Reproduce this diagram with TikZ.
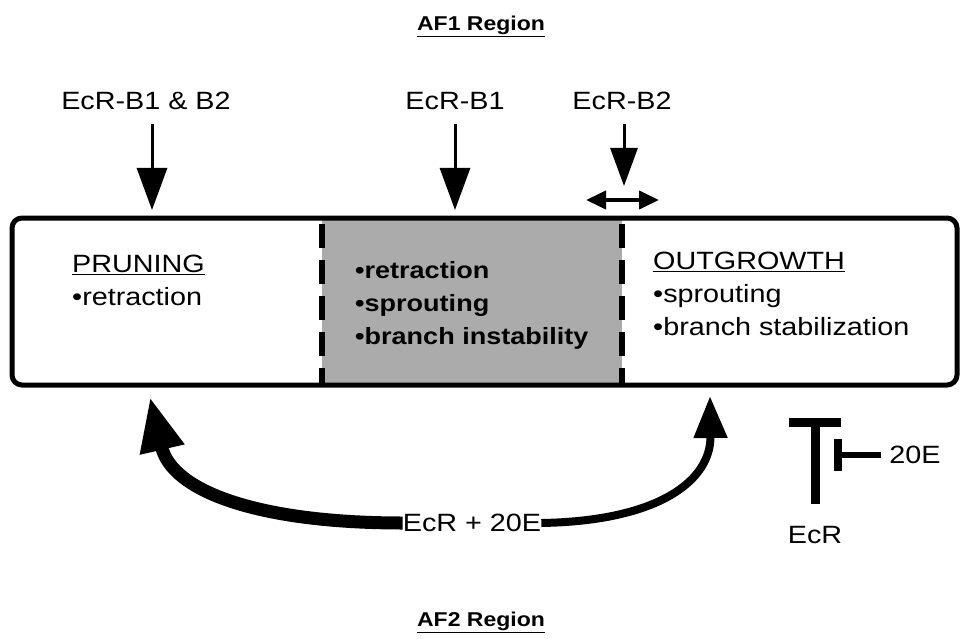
\documentclass[tikz,border=0pt]{standalone}
\usepackage{fontspec}
\setmainfont{Liberation Sans}[FakeStretch=1.15]
\usetikzlibrary{arrows.meta}

\tikzset{
  lbl/.style={font=\fontsize{25}{33}\selectfont, inner sep=0pt},
  ttl/.style={font=\fontsize{20}{22}\selectfont\bfseries, inner sep=0pt},
  col/.style={lbl, align=left, anchor=north west},
  midcol/.style={col, font=\fontsize{23.5}{33}\selectfont\bfseries},
  downarrow/.style={line width=3pt, shorten <=14pt, -{Triangle[length=42pt, width=30pt]}},
  divider/.style={line width=6pt, dash pattern=on 24pt off 12pt, dash phase=-6pt},
}

\begin{document}
\begin{tikzpicture}[x=1pt, y=-1pt]
  \useasboundingbox (0,0) rectangle (963,639);
  % titles
  \node[ttl] (af1) at (481,26) {\underline{AF1 Region}};
  \node[ttl] (af2) at (481,622) {\underline{AF2 Region}};
  % the arbor, with the shaded zone in the middle
  \fill[black!33] (322,218) rectangle (622,385);
  \node[draw, line width=5pt, rounded corners=10pt, minimum width=945pt, minimum height=167pt, inner sep=0pt] (box) at (484.5,301.5) {};
  \draw[divider] (322,218) -- (322,385);
  \draw[divider] (622,218) -- (622,385);
  \node[col] (prune) at (72,255) {\underline{PRUNING}\\•retraction};
  \node[midcol] (mid) at (355,261) {•retraction\\•sprouting\\•branch instability};
  \node[col] (grow) at (653,252) {\underline{OUTGROWTH}\\•sprouting\\•branch stabilization};
  % receptor isoforms above
  \node[lbl] (b12) at (146,101) {EcR-B1 \& B2};
  \node[lbl] (b1) at (455,101) {EcR-B1};
  \node[lbl] (b2) at (622,101) {EcR-B2};
  \coordinate (pruneTop) at (152,210);
  \coordinate (midTop) at (455,210);
  \coordinate (shiftTop) at (624,186);
  \coordinate (shiftL) at (586,200);
  \coordinate (shiftR) at (659,200);
  \draw[downarrow] (b12.south -| pruneTop) -- (pruneTop);
  \draw[downarrow] (b1.south) -- (midTop);
  \draw[line width=3pt, shorten <=14pt, -{Triangle[length=38pt, width=27pt]}] (b2.south -| shiftTop) -- (shiftTop);
  \draw[line width=4pt, {Triangle[length=20pt, width=18pt]}-{Triangle[length=20pt, width=18pt]}] (shiftL) -- (shiftR);
  % EcR + 20E below
  \node[lbl] (ecr20) at (472,523) {EcR + 20E};
  \coordinate (pruneIn) at (150,397);
  \coordinate (growIn) at (710,396);
  \draw[line width=13pt, -{Triangle[length=54pt, width=42pt]}] (ecr20.west) .. controls (260,523) and (172,492) .. (pruneIn);
  \draw[line width=8pt, -{Triangle[length=42pt, width=32pt]}] (ecr20.east) .. controls (660,521) and (711,480) .. (growIn);
  % inhibition
  \node[lbl] (ecr) at (815,535) {EcR};
  \node[lbl] (ie) at (915,455) {20E};
  \coordinate (ecrBar) at (815,418);
  \coordinate (ieBar) at (834,455);
  \draw[line width=9pt, shorten <=22pt, -{Bar[width=52pt]}] (ecr.north) -- (ecrBar);
  \draw[line width=6pt, shorten <=8pt, -{Bar[width=32pt, line width=8pt]}] (ie.west) -- (ieBar);
\end{tikzpicture}
\end{document}
